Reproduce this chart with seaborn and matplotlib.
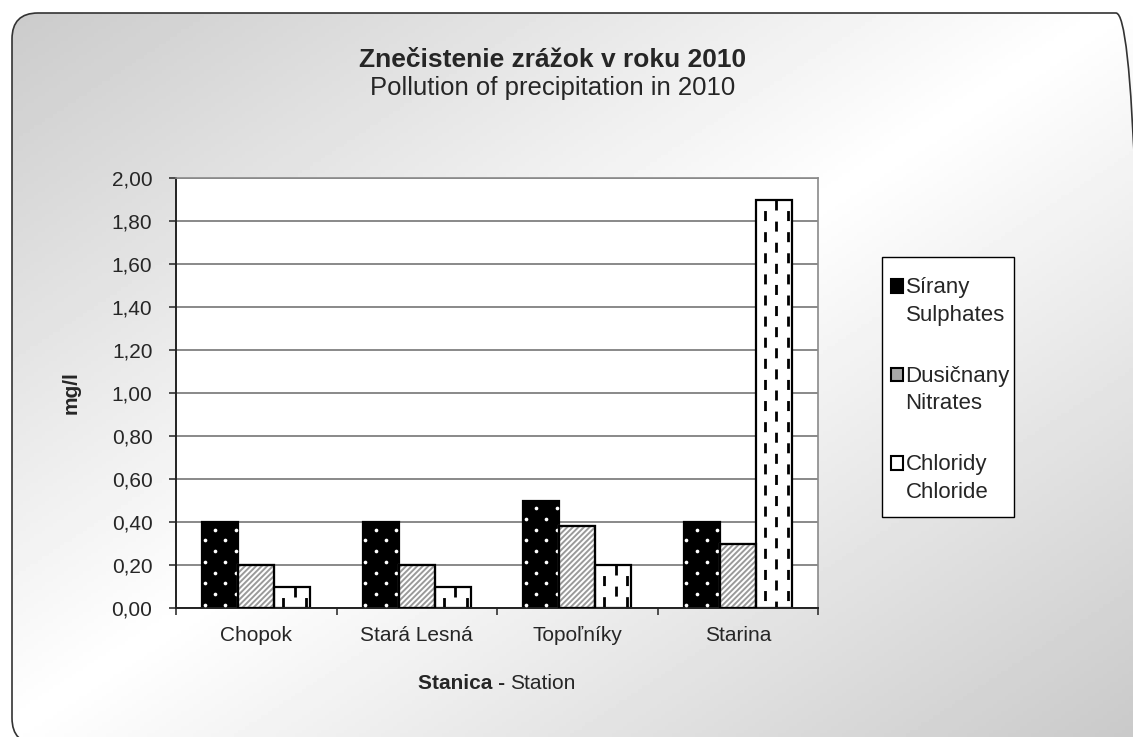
import numpy as np
import pandas as pd
import matplotlib
matplotlib.use('Agg')
import seaborn as sns
import matplotlib.pyplot as plt
from matplotlib.patches import FancyBboxPatch, Patch, Rectangle
from matplotlib.legend_handler import HandlerPatch
from matplotlib.ticker import FuncFormatter, FixedLocator
from matplotlib.transforms import IdentityTransform

# Data
stations = ['Chopok', 'Stará Lesná', 'Topoľníky', 'Starina']
sulphates = [0.40, 0.40, 0.50, 0.40]
nitrates = [0.20, 0.20, 0.38, 0.30]
chlorides = [0.10, 0.10, 0.20, 1.90]
series = ['Sírany\nSulphates', 'Dusičnany\nNitrates', 'Chloridy\nChloride']
y_ticks = [0.0, 0.2, 0.4, 0.6, 0.8, 1.0, 1.2, 1.4, 1.6, 1.8, 2.0]

df = pd.DataFrame({
    'station': stations * 3,
    'value': sulphates + nitrates + chlorides,
    'series': [s for s in series for _ in stations],
})

sns.set_style('white')
plt.rcParams['font.family'] = ['Liberation Sans', 'DejaVu Sans']
plt.rcParams['hatch.linewidth'] = 1.4

W, H = 1133, 737
fig = plt.figure(figsize=(W / 100, H / 100), dpi=100)

# background: rounded frame (pixel coords) with diagonal grey-white-grey gradient
bg = fig.add_axes([0, 0, 1, 1], zorder=-5)
bg.axis('off')
xx, yy = np.meshgrid(np.linspace(0, 1, 300), np.linspace(0, 1, 200))
grad = 1 - 0.21 * np.abs(xx + yy - 1)
img = bg.imshow(grad, cmap='gray', vmin=0, vmax=1, extent=(0, W, 0, H), aspect='auto')
bg.set_xlim(0, W)
bg.set_ylim(0, H)
frame = FancyBboxPatch((12, -7), 1130, 731, boxstyle='round,pad=0,rounding_size=26',
                       facecolor='none', edgecolor='#333333', linewidth=1.2,
                       transform=IdentityTransform())
fig.patches.append(frame)
img.set_clip_path(frame)

ax = fig.add_axes([176 / W, 1 - 608 / H, 642 / W, 430 / H])
ax.set_facecolor('white')

sns.barplot(data=df, x='station', y='value', hue='series', order=stations,
            hue_order=series, palette=['black', 'white', 'white'], width=0.67,
            edgecolor='black', linewidth=1.6, saturation=1, legend=False, ax=ax)

# sulphates: small white dots in a staggered grid
for bar in ax.containers[0]:
    x0, w, h = bar.get_x(), bar.get_width(), bar.get_height()
    px, py = [], []
    for k, yv in enumerate(np.arange(0.015, h - 0.01, 0.05)):
        cols = [0.07, 0.64] if k % 2 == 0 else [0.36, 0.93]
        for c in cols:
            px.append(x0 + c * w)
            py.append(yv)
    ax.scatter(px, py, s=7, color='white', linewidths=0, zorder=3)

# nitrates: grey diagonal stripes
for bar in ax.containers[1]:
    bar.set_edgecolor('#9a9a9a')
    bar.set_hatch('//////')
    ax.add_patch(Rectangle(bar.get_xy(), bar.get_width(), bar.get_height(),
                           fill=False, edgecolor='black', linewidth=1.6, zorder=3))

# chlorides: dashed vertical lines drawn from the top, middle column shifted
for bar in ax.containers[2]:
    x0, w, h = bar.get_x(), bar.get_width(), bar.get_height()
    for frac, off in [(0.25, 3.8), (0.57, 0), (0.89, 3.8)]:
        xv = x0 + frac * w
        ax.plot([xv, xv], [h, 0], color='black', linewidth=2.0,
                linestyle=(off, (3.6, 4.0)), solid_capstyle='butt', zorder=2.5)

ax.set_ylim(0, 2.0)
ax.set_xlim(-0.5, 3.5)
ax.yaxis.set_major_locator(FixedLocator(y_ticks))
ax.yaxis.set_major_formatter(FuncFormatter(lambda v, p: f'{v:.2f}'.replace('.', ',')))
ax.grid(axis='y', color='#6a6a6a', linewidth=1.1)
ax.set_axisbelow(True)

ax.set_xticks([-0.5, 0.5, 1.5, 2.5, 3.5])
ax.set_xticklabels([])
ax.set_xticks(range(len(stations)), minor=True)
ax.set_xticklabels(stations, minor=True)
ax.tick_params(axis='x', which='minor', length=0, pad=13, labelsize=15)
ax.tick_params(axis='x', which='major', direction='out', length=5, width=1.2, color='#333333')
ax.tick_params(axis='y', direction='out', length=5, width=1.2, color='#333333', pad=12, labelsize=15)
ax.tick_params(bottom=True, left=True)

for side in ['top', 'right']:
    ax.spines[side].set_color('#8a8a8a')
    ax.spines[side].set_linewidth(1.2)
for side in ['left', 'bottom']:
    ax.spines[side].set_color('#222222')
    ax.spines[side].set_linewidth(1.4)

ax.set_xlabel('')
ax.set_ylabel('mg/l', fontsize=15, fontweight='bold', labelpad=22)

t1 = ax.text(0.512, -0.175, 'Stanica -', transform=ax.transAxes, ha='right', va='center',
             fontsize=15, fontweight='bold')
ax.annotate('Station', xy=(1, 0), xycoords=t1, xytext=(4, 0), textcoords='offset points',
            ha='left', va='bottom', fontsize=15)

fig.text(553 / W, 1 - 60 / H, 'Znečistenie zrážok v roku 2010', ha='center', va='center',
         fontsize=19, fontweight='bold')
fig.text(553 / W, 1 - 88 / H, 'Pollution of precipitation in 2010', ha='center', va='center',
         fontsize=18.5)


# legend: square sits next to the first line of each two-line label
def top_square(legend, orig_handle, xdescent, ydescent, width, height, fontsize):
    return Rectangle((-xdescent, -ydescent + 0.7 * fontsize), width, height)


fig.patches.append(Rectangle((882 / W, 1 - 517 / H), 132 / W, 260 / H, transform=fig.transFigure,
                             facecolor='white', edgecolor='black', linewidth=1.0, zorder=1))
handles = [Patch(facecolor='black', edgecolor='black', linewidth=1.5),
           Patch(facecolor='#a8a8a8', edgecolor='black', linewidth=1.5),
           Patch(facecolor='white', edgecolor='black', linewidth=1.5)]
leg = fig.legend(handles, series, loc='center left', bbox_to_anchor=(884 / W, 1 - 390 / H),
                 fontsize=16, frameon=False,
                 handler_map={Patch: HandlerPatch(patch_func=top_square)},
                 handlelength=0.55, handleheight=0.55, handletextpad=0.12,
                 labelspacing=1.8, borderpad=0.3, borderaxespad=0)
for t in leg.get_texts():
    t.set_linespacing(1.4)
leg.set_zorder(2)

fig.savefig('out.png', dpi=100)
